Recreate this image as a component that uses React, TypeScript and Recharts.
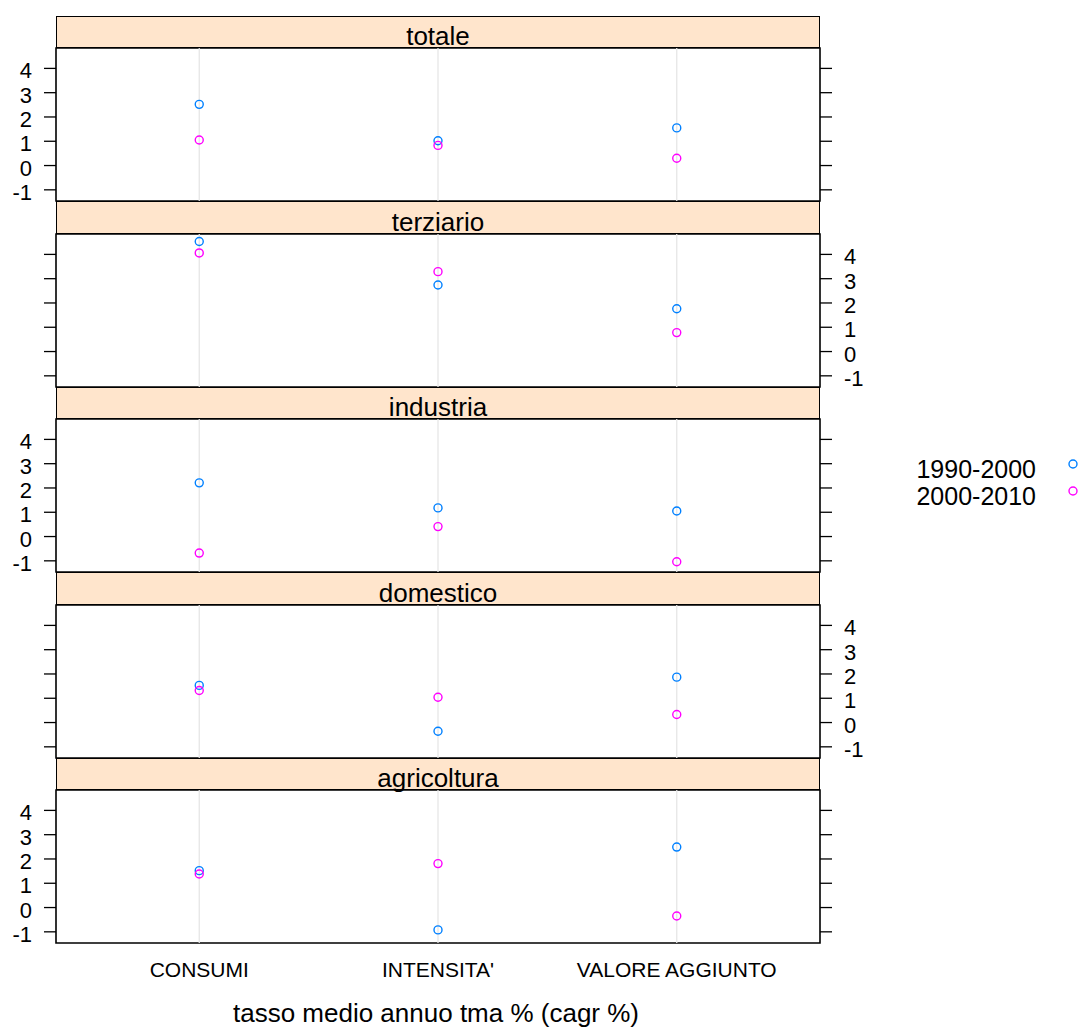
import React from 'react';
import { ScatterChart, Scatter, XAxis, YAxis, ReferenceLine, ReferenceArea } from 'recharts';

const categories = ['CONSUMI', "INTENSITA'", 'VALORE AGGIUNTO'];
const panelNames = ['totale', 'terziario', 'industria', 'domestico', 'agricoltura'];
const seriesNames = ['1990-2000', '2000-2010'];
const yTicks = [-1, 0, 1, 2, 3, 4];
const xTicks = [1, 2, 3];

const totale1990 = [2.52, 1.02, 1.55];
const totale2000 = [1.05, 0.83, 0.3];
const terziario1990 = [4.53, 2.74, 1.76];
const terziario2000 = [4.06, 3.29, 0.78];
const industria1990 = [2.21, 1.18, 1.05];
const industria2000 = [-0.68, 0.41, -1.04];
const domestico1990 = [1.53, -0.36, 1.87];
const domestico2000 = [1.32, 1.04, 0.33];
const agricoltura1990 = [1.52, -0.92, 2.49];
const agricoltura2000 = [1.38, 1.81, -0.35];

const panelSeries = [
  [totale1990, totale2000],
  [terziario1990, terziario2000],
  [industria1990, industria2000],
  [domestico1990, domestico2000],
  [agricoltura1990, agricoltura2000],
];

const colors = ['#0080ff', '#ff00ff'];
const FONT = '"Liberation Sans", Arial, Helvetica, sans-serif';
const Y_DOMAIN: [number, number] = [-1.46, 4.84];
const X_DOMAIN: [number, number] = [0.4, 3.6];
const PLOT_TOPS = [48, 234, 419, 605, 790];
const PLOT_H = 153;
const PAD = 14;
const CHART_W = 900;
const LEFT_W = 56;
const RIGHT_W = 80;

const toPoints = (vals: number[]) => vals.map((v, i) => ({ x: i + 1, y: v }));

const makeDot = (color: string) => (props: any) => {
  const { cx, cy } = props;
  if (cx == null || cy == null) return <g />;
  return <circle cx={cx} cy={cy} r={4} fill="none" stroke={color} strokeWidth={1.4} />;
};

const makeYTick = (show: boolean, side: 'left' | 'right') => (props: any) => {
  const { x, y, payload } = props;
  if (!show) return <g />;
  return (
    <text
      x={x}
      y={y + 10}
      textAnchor={side === 'left' ? 'end' : 'start'}
      fontSize={22}
      fill="#000"
      fontFamily={FONT}
    >
      {payload.value}
    </text>
  );
};

const XTick = (props: any) => {
  const { x, y, payload } = props;
  return (
    <text x={x} y={y + 15} textAnchor="middle" fontSize={21} fill="#000" fontFamily={FONT}>
      {categories[payload.value - 1]}
    </text>
  );
};

const Panel = ({ index }: { index: number }) => {
  const isBottom = index === panelNames.length - 1;
  const leftLabels = index % 2 === 0;
  const [s1, s2] = panelSeries[index];
  const top = PLOT_TOPS[index] - PAD;
  const height = PLOT_H + PAD + (isBottom ? 60 : PAD);
  return (
    <div style={{ position: 'absolute', left: 0, top, width: CHART_W, height }}>
      <ScatterChart
        width={CHART_W}
        height={height}
        margin={{ top: PAD, right: 0, bottom: isBottom ? 0 : PAD, left: 0 }}
        style={{ overflow: 'visible' }}
      >
        <XAxis
          dataKey="x"
          type="number"
          domain={X_DOMAIN}
          ticks={xTicks}
          hide={!isBottom}
          axisLine={false}
          tickLine={false}
          tickSize={0}
          tickMargin={19}
          height={60}
          tick={<XTick />}
          interval={0}
          allowDataOverflow
        />
        <YAxis
          yAxisId="l"
          dataKey="y"
          type="number"
          orientation="left"
          width={LEFT_W}
          domain={Y_DOMAIN}
          ticks={yTicks}
          axisLine={false}
          tickLine={{ stroke: '#000', strokeWidth: 1.3 }}
          tickSize={12}
          tickMargin={12}
          tick={makeYTick(leftLabels, 'left')}
          interval={0}
          allowDataOverflow
        />
        <YAxis
          yAxisId="r"
          type="number"
          orientation="right"
          width={RIGHT_W}
          domain={Y_DOMAIN}
          ticks={yTicks}
          axisLine={false}
          tickLine={{ stroke: '#000', strokeWidth: 1.3 }}
          tickSize={12}
          tickMargin={12}
          tick={makeYTick(!leftLabels, 'right')}
          interval={0}
          allowDataOverflow
        />
        {xTicks.map((t) => (
          <ReferenceLine key={t} x={t} yAxisId="l" stroke="#e6e6e6" strokeWidth={1.3} ifOverflow="extendDomain" />
        ))}
        <Scatter
          name={seriesNames[0]}
          data={toPoints(s1)}
          yAxisId="l"
          dataKey="y"
          isAnimationActive={false}
          shape={makeDot(colors[0])}
        />
        <Scatter
          name={seriesNames[1]}
          data={toPoints(s2)}
          yAxisId="l"
          dataKey="y"
          isAnimationActive={false}
          shape={makeDot(colors[1])}
        />
        <ReferenceArea
          yAxisId="l"
          x1={X_DOMAIN[0]}
          x2={X_DOMAIN[1]}
          y1={Y_DOMAIN[0]}
          y2={Y_DOMAIN[1]}
          fill="none"
          fillOpacity={0}
          stroke="#000"
          strokeWidth={1.6}
        />
      </ScatterChart>
    </div>
  );
};

const Strip = ({ index }: { index: number }) => {
  const top = index === 0 ? 16 : PLOT_TOPS[index - 1] + PLOT_H;
  const h = PLOT_TOPS[index] - top;
  return (
    <div
      style={{
        position: 'absolute',
        left: LEFT_W,
        top,
        width: 820 - LEFT_W,
        height: h,
        boxSizing: 'border-box',
        background: '#ffe5cc',
        border: '1.6px solid #000',
      }}
    >
      <div
        style={{
          position: 'absolute',
          left: 0,
          right: 0,
          top: h - 26,
          textAlign: 'center',
          fontSize: 26,
          lineHeight: '26px',
          fontFamily: FONT,
          color: '#000',
          whiteSpace: 'nowrap',
        }}
      >
        {panelNames[index]}
      </div>
    </div>
  );
};

export default function App() {
  return (
    <div
      style={{
        position: 'absolute',
        left: 0,
        top: 0,
        width: 1081,
        height: 1030,
        background: '#fff',
        fontFamily: FONT,
        overflow: 'hidden',
      }}
    >
      <svg width={1081} height={1030} style={{ position: 'absolute', left: 0, top: 0 }}>
        <text x={436} y={1022} textAnchor="middle" fontSize={26} fill="#000" fontFamily={FONT}>
          tasso medio annuo tma % (cagr %)
        </text>
        {seriesNames.map((name, i) => (
          <g key={name}>
            <text x={1036} y={478 + i * 27} textAnchor="end" fontSize={25} fill="#000" fontFamily={FONT}>
              {name}
            </text>
            <circle cx={1073} cy={464 + i * 27} r={4} fill="none" stroke={colors[i]} strokeWidth={1.4} />
          </g>
        ))}
      </svg>
      {panelNames.map((_, i) => (
        <Panel key={`p${i}`} index={i} />
      ))}
      {panelNames.map((_, i) => (
        <Strip key={`s${i}`} index={i} />
      ))}
    </div>
  );
}
